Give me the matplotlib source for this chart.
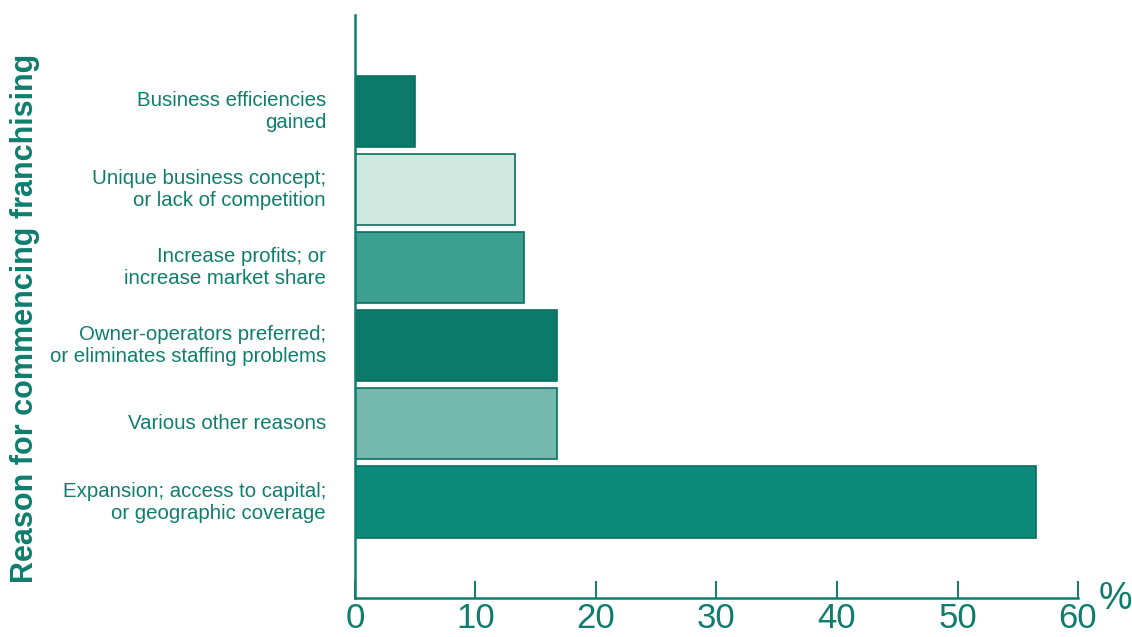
import numpy as np
import matplotlib.pyplot as plt

# reasons listed bottom to top
reasons = [
    "Expansion; access to capital;\nor geographic coverage",
    "Various other reasons",
    "Owner-operators preferred;\nor eliminates staffing problems",
    "Increase profits; or\nincrease market share",
    "Unique business concept;\nor lack of competition",
    "Business efficiencies\ngained",
]
percent = [56.5, 16.8, 16.8, 14.0, 13.3, 5.0]
bar_colors = ["#0c8a7a", "#74b9ab", "#0b7a6a", "#3d9f8f", "#cfe8e0", "#0b7a6a"]

teal = "#0f7d6d"
plt.rcParams['font.family'] = ['Liberation Sans', 'DejaVu Sans']

fig = plt.figure(figsize=(11.32, 6.37), dpi=100)
ax = fig.add_axes([0.3136, 0.0612, 0.6387, 0.9153])

y = np.arange(len(reasons))
ax.barh(y, percent, height=0.91, color=bar_colors, edgecolor="#0a6e60", linewidth=1.2)

ax.set_xlim(0, 60)
ax.set_ylim(-1.23, 6.24)
ax.set_xticks(np.arange(0, 61, 10))
ax.tick_params(axis='x', direction='in', length=12, width=1.4, colors=teal,
               labelsize=25, pad=3)
ax.set_yticks([])

for s in ['top', 'right']:
    ax.spines[s].set_visible(False)
for s in ['left', 'bottom']:
    ax.spines[s].set_color(teal)
    ax.spines[s].set_linewidth(1.8)

for yi, lab in zip(y, reasons):
    ax.text(-2.4, yi, lab, ha='right', va='center', fontsize=14.7,
            color=teal, linespacing=1.2)

fig.text(0.022, 0.5, "Reason for commencing franchising", rotation=90,
         ha='center', va='center', fontsize=22, fontweight='bold', color=teal)
fig.text(0.985, 0.06, "%", ha='center', va='center', fontsize=27, color=teal)

fig.savefig("out.png", dpi=100)
